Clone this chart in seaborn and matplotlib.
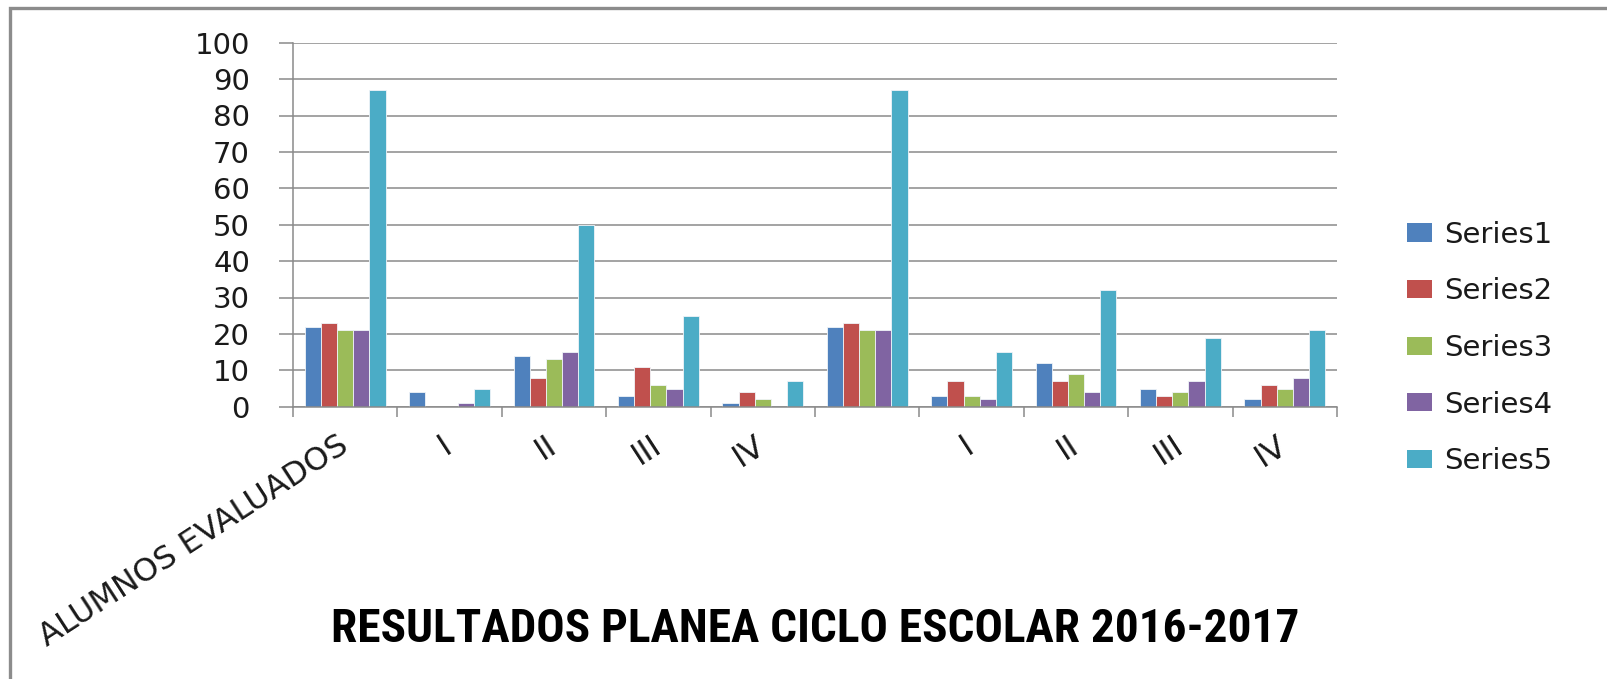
import matplotlib
matplotlib.use("Agg")
import matplotlib.pyplot as plt
from matplotlib import font_manager
from matplotlib.patches import Rectangle
import seaborn as sns
import pandas as pd

categories = ["ALUMNOS EVALUADOS", "I", "II", "III", "IV", "", "I", "II", "III", "IV"]
series_names = ["Series1", "Series2", "Series3", "Series4", "Series5"]
series1 = [22, 4, 14, 3, 1, 22, 3, 12, 5, 2]
series2 = [23, 0, 8, 11, 4, 23, 7, 7, 3, 6]
series3 = [21, 0, 13, 6, 2, 21, 3, 9, 4, 5]
series4 = [21, 1, 15, 5, 0, 21, 2, 4, 7, 8]
series5 = [87, 5, 50, 25, 7, 87, 15, 32, 19, 21]
y_ticks = [0, 10, 20, 30, 40, 50, 60, 70, 80, 90, 100]
title = "RESULTADOS PLANEA CICLO ESCOLAR 2016-2017"
colors = ["#4F81BD", "#C0504D", "#9BBB59", "#8064A2", "#4BACC6"]

all_series = [series1, series2, series3, series4, series5]
rows = []
for name, vals in zip(series_names, all_series):
    for i, v in enumerate(vals):
        rows.append({"pos": i, "series": name, "value": v})
df = pd.DataFrame(rows)

sns.set_theme(style="white")
plt.rcParams["font.family"] = ["DejaVu Sans"]

W, H = 1608, 679
fig = plt.figure(figsize=(W / 100, H / 100), dpi=100)
ax = fig.add_axes([293 / W, 1 - 406.7 / H, (1337 - 293) / W, (406.7 - 42.7) / H])

sns.barplot(data=df, x="pos", y="value", hue="series", order=list(range(len(categories))),
            hue_order=series_names, palette=colors, width=0.774, ax=ax,
            edgecolor="#f0f4f8", linewidth=0.6, saturation=1, errorbar=None)

ax.set_ylim(0, 100)
ax.set_xlim(-0.5, len(categories) - 0.5)
ax.set_yticks(y_ticks)
ax.set_yticklabels([str(t) for t in y_ticks], fontsize=21, color="#1a1a1a")
ax.yaxis.grid(True, color="#8a8a8a", linewidth=1.1)
ax.set_axisbelow(True)
ax.tick_params(axis="y", length=10, width=1.1, color="#8a8a8a", pad=21, left=True)

ax.set_xticks(range(len(categories)))
ax.set_xticklabels(categories, rotation=33, ha="right", va="center",
                   rotation_mode="anchor", fontsize=23, color="#1a1a1a")
ax.tick_params(axis="x", which="major", length=0, pad=26)
ax.set_xticks([i - 0.5 for i in range(len(categories) + 1)], minor=True)
ax.tick_params(axis="x", which="minor", length=7, width=1.1, color="#8a8a8a", bottom=True)

for s in ["top", "right"]:
    ax.spines[s].set_visible(False)
for s in ["left", "bottom"]:
    ax.spines[s].set_color("#8a8a8a")
    ax.spines[s].set_linewidth(1.1)

ax.set_xlabel("")
ax.set_ylabel("")

leg = ax.legend(loc="center left", bbox_to_anchor=(1407 / W, 1 - 348 / H),
                bbox_transform=fig.transFigure, frameon=False, fontsize=21,
                handlelength=0.86, handleheight=0.58, handletextpad=0.4,
                labelspacing=0.98, borderpad=0, borderaxespad=0)
for t in leg.get_texts():
    t.set_color("#1a1a1a")
for h in leg.legend_handles:
    h.set_edgecolor("none")

names = {f.name for f in font_manager.fontManager.ttflist}
title_font = "DejaVu Sans"
for cand in ["Liberation Sans Narrow", "Roboto Condensed", "DejaVu Sans Condensed",
             "Open Sans Condensed", "Noto Sans Condensed", "Open Sans"]:
    if cand in names:
        title_font = cand
        break
ttl = fig.text(815 / W, 1 - 629 / H, title, ha="center", va="center",
               fontsize=36, fontweight="bold", family=title_font, color="black")
fig.canvas.draw()
r = fig.canvas.get_renderer()
wpx = ttl.get_window_extent(r).width
ttl.set_fontsize(36 * 970 / wpx)

fig.add_artist(Rectangle((10 / W, -0.1), 1.2, 1 - 8 / H + 0.1, transform=fig.transFigure,
                         fill=False, edgecolor="#8c8c8c", linewidth=2.4, clip_on=False))

fig.savefig("out.png", dpi=100)
